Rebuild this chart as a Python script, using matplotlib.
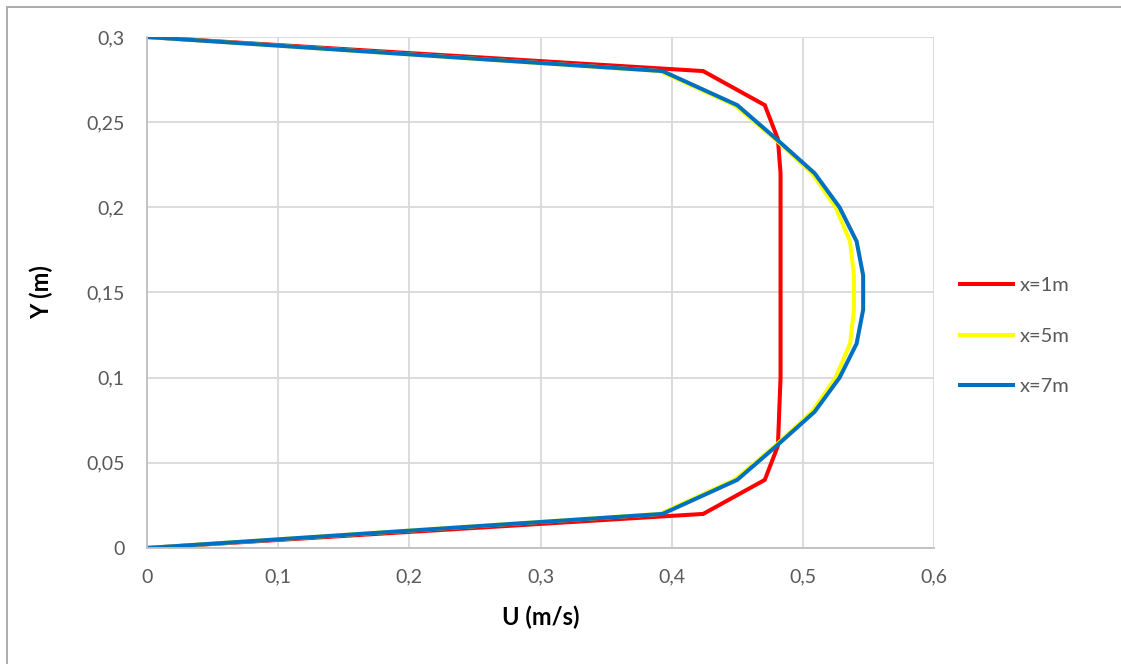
import numpy as np
import matplotlib.pyplot as plt
from matplotlib.ticker import FuncFormatter, MultipleLocator
from matplotlib.patches import Rectangle

plt.rcParams['font.family'] = ['Lato', 'DejaVu Sans']

# hauteurs (m)
y = [0, 0.02, 0.04, 0.06, 0.08, 0.10, 0.12, 0.14, 0.16,
     0.18, 0.20, 0.22, 0.24, 0.26, 0.28, 0.30]

# vitesse U (m/s) pour chaque section
u_x1 = [0, 0.424, 0.471, 0.481, 0.482, 0.483, 0.483, 0.483, 0.483,
        0.483, 0.483, 0.483, 0.481, 0.471, 0.424, 0]
u_x5 = [0, 0.391, 0.448, 0.479, 0.507, 0.525, 0.536, 0.539, 0.539,
        0.536, 0.525, 0.507, 0.479, 0.448, 0.391, 0]
u_x7 = [0, 0.393, 0.450, 0.480, 0.509, 0.528, 0.541, 0.546, 0.546,
        0.541, 0.528, 0.509, 0.480, 0.450, 0.393, 0]

labels = ['x=1m', 'x=5m', 'x=7m']
colors = ['#ff0000', '#ffff00', '#0070c0']

fig = plt.figure(figsize=(11.21, 6.64), dpi=100)
ax = fig.add_axes([147/1121, 1 - 548/664, 787/1121, 511/664])

for u, lab, c in zip([u_x1, u_x5, u_x7], labels, colors):
    ax.plot(u, y, color=c, linewidth=2.9, label=lab, solid_joinstyle='miter')

ax.set_xlim(0, 0.6)
ax.set_ylim(0, 0.3)
ax.xaxis.set_major_locator(MultipleLocator(0.1))
ax.yaxis.set_major_locator(MultipleLocator(0.05))
fmt = FuncFormatter(lambda v, p: ('%g' % round(v, 3)).replace('.', ','))
ax.xaxis.set_major_formatter(fmt)
ax.yaxis.set_major_formatter(fmt)

ax.grid(True, color='#d9d9d9', linewidth=1.3)
ax.set_axisbelow(True)
for s in ['top', 'right']:
    ax.spines[s].set_visible(False)
for s in ['left', 'bottom']:
    ax.spines[s].set_color('#bfbfbf')
    ax.spines[s].set_linewidth(1.3)
ax.tick_params(length=0, labelsize=14, labelcolor='#595959')
ax.tick_params(axis='y', pad=16)
ax.tick_params(axis='x', pad=15)

ax.set_xlabel('U (m/s)', fontsize=17, fontweight='bold', color='black', labelpad=14)
ax.set_ylabel('Y (m)', fontsize=17, fontweight='bold', color='black', labelpad=24)

leg = ax.legend(loc='center left', bbox_to_anchor=(952/1121, 1 - 336/664),
                bbox_transform=fig.transFigure, frameon=False, fontsize=14.5,
                handlelength=2.65, handletextpad=0.3, labelspacing=1.68,
                borderpad=0.4, borderaxespad=0)
for t in leg.get_texts():
    t.set_color('#595959')

# cadre du graphique
fig.patches.append(Rectangle((7/1121, -0.1), 1.2, 1 - 7/664 + 0.1,
                             transform=fig.transFigure, fill=False,
                             edgecolor='#a6a6a6', linewidth=1.3))

fig.savefig('out.png', dpi=100)
